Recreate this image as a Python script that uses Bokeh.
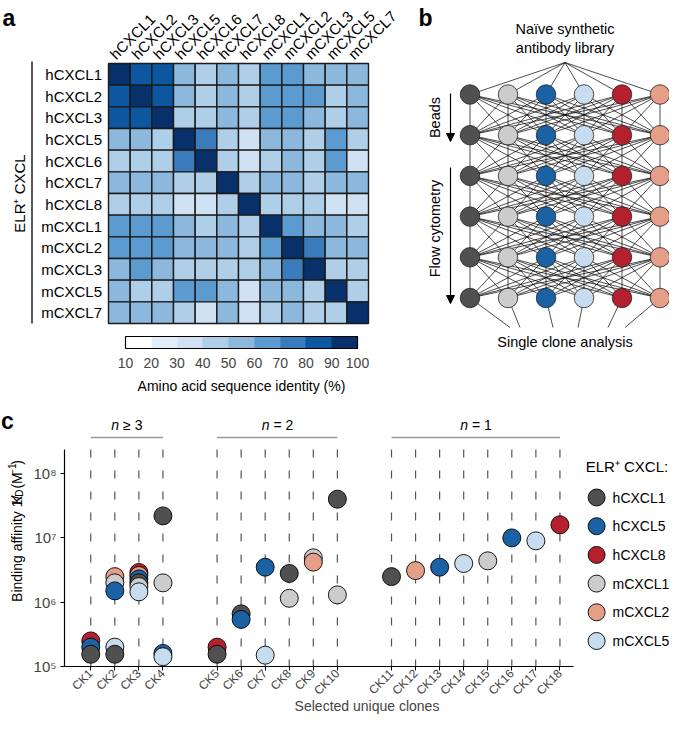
import numpy as np
from bokeh.plotting import figure
from bokeh.models import (Range1d, ColumnDataSource, LinearColorMapper, ColorBar,
                          FixedTicker, Arrow, NormalHead)
from bokeh.layouts import row, column
from bokeh.core.properties import value
from bokeh.transform import transform
from bokeh.embed import file_html
from bokeh.resources import INLINE

FONT = "Liberation Sans"

# ---------------- panel a data ----------------
cxcl_names = ["hCXCL1", "hCXCL2", "hCXCL3", "hCXCL5", "hCXCL6", "hCXCL7",
              "hCXCL8", "mCXCL1", "mCXCL2", "mCXCL3", "mCXCL5", "mCXCL7"]
identity = [
    [100, 88, 86, 54, 44, 53, 44, 64, 63, 55, 54, 55],
    [88, 100, 86, 55, 45, 54, 45, 64, 63, 62, 45, 54],
    [86, 86, 100, 46, 45, 54, 44, 63, 62, 55, 45, 54],
    [54, 55, 46, 100, 76, 45, 35, 55, 54, 45, 63, 46],
    [44, 45, 45, 76, 100, 45, 36, 45, 52, 45, 62, 36],
    [53, 54, 54, 45, 45, 100, 45, 55, 54, 46, 54, 55],
    [44, 45, 44, 35, 36, 45, 100, 45, 45, 45, 36, 35],
    [64, 64, 63, 55, 45, 55, 45, 100, 64, 55, 54, 46],
    [63, 63, 62, 54, 52, 54, 45, 64, 100, 74, 55, 54],
    [55, 62, 55, 45, 45, 46, 45, 55, 74, 100, 45, 45],
    [54, 45, 45, 63, 62, 54, 36, 54, 55, 45, 100, 45],
    [55, 54, 54, 46, 36, 55, 35, 46, 54, 45, 45, 100],
]
cbar_ticks = [10, 20, 30, 40, 50, 60, 70, 80, 90, 100]
palette = ["#ffffff", "#e1edf8", "#cfe1f2", "#afcee8", "#8db8dd",
           "#5c9bd0", "#3a7bbb", "#0d56a0", "#08306b"]

# ---------------- panel c data ----------------
clones = ["CK1", "CK2", "CK3", "CK4", "CK5", "CK6", "CK7", "CK8", "CK9",
          "CK10", "CK11", "CK12", "CK13", "CK14", "CK15", "CK16", "CK17", "CK18"]
group_names = ["n", "n", "n"]
group_rest = ["\u2265 3", "= 2", "= 1"]
clone_group = [0, 0, 0, 0, 1, 1, 1, 1, 1, 1, 2, 2, 2, 2, 2, 2, 2, 2]
series_names = ["hCXCL1", "hCXCL5", "hCXCL8", "mCXCL1", "mCXCL2", "mCXCL5"]
series_colors = ["#505050", "#1b62a5", "#b5202e", "#cccccc", "#e59e88", "#c7dcee"]
N = None
hCXCL1 = [1.55e5, 1.55e5, 2.0e6, 2.2e7, 1.55e5, 6.6e5, N, 2.8e6, N, 4.0e7, 2.5e6, N, N, N, N, N, N, N]
hCXCL5 = [2.0e5, 1.5e6, 2.3e6, 1.6e5, N, 5.4e5, 3.5e6, N, N, N, N, N, 3.5e6, N, N, 1.0e7, N, N]
hCXCL8 = [2.5e5, N, 2.9e6, N, 2.0e5, N, N, N, N, N, N, N, N, N, N, N, N, 1.6e7]
mCXCL1 = [N, 2.0e6, 1.75e6, 2.0e6, N, N, N, 1.15e6, 4.9e6, 1.3e6, N, N, N, N, 4.4e6, N, N, N]
mCXCL2 = [N, 2.5e6, 2.6e6, N, N, N, N, N, 4.2e6, N, N, 3.1e6, N, N, N, N, N, N]
mCXCL5 = [N, 2.0e5, 1.45e6, 1.42e5, N, N, 1.5e5, N, N, N, N, N, N, 4.0e6, N, N, 9.0e6, N]
series_values = [hCXCL1, hCXCL5, hCXCL8, mCXCL1, mCXCL2, mCXCL5]
y_ticks = [1e5, 1e6, 1e7, 1e8]
y_tick_labels = ["10\u2075", "10\u2076", "10\u2077", "10\u2078"]

# panel b node order (colours of the chemokine targets)
b_nodes = ["hCXCL1", "mCXCL1", "hCXCL5", "mCXCL5", "hCXCL8", "mCXCL2"]
color_of = dict(zip(series_names, series_colors))


def base_fig(**kw):
    kw.setdefault("min_border", 0)
    return figure(output_backend="svg", toolbar_location=None,
                  outline_line_color=None, background_fill_color="white",
                  border_fill_color="white", **kw)


def txt(p, x, y, s, size="15px", align="left", baseline="middle", angle=0.0,
        style="normal", color="black"):
    p.text(x=[x], y=[y], text=[s], text_font=value(FONT), text_font_size=size,
           text_align=align, text_baseline=baseline, angle=angle,
           text_font_style=style, text_color=color)


# ======================= panel a =======================
cell = 260 / 12
WA, HA = 400, 400
GX, GY = 108, 63
pa = base_fig(width=WA, height=HA,
              x_range=Range1d(-GX / cell, (WA - GX) / cell),
              y_range=Range1d(-(HA - GY) / cell, GY / cell),
              x_axis_location=None, y_axis_location=None)
pa.xgrid.visible = False
pa.ygrid.visible = False

n = len(cxcl_names)
cx, cy, cv = [], [], []
for r in range(n):
    for c in range(n):
        cx.append(c + 0.5)
        cy.append(-(r + 0.5))
        cv.append(identity[r][c])
mapper = LinearColorMapper(palette=palette, low=cbar_ticks[0], high=cbar_ticks[-1])
pa.rect(x="x", y="y", width=1, height=1,
        source=ColumnDataSource(dict(x=cx, y=cy, v=cv)),
        fill_color=transform("v", mapper), line_color="#1a1a1a", line_width=1.4)

pa.text(x=[-6.5 / cell] * n, y=[-(r + 0.5) for r in range(n)], text=cxcl_names,
        text_font=value(FONT), text_font_size="15px", text_align="right",
        text_baseline="middle")
pa.text(x=[c + 0.5 - 7 / cell for c in range(n)], y=[7 / cell] * n, text=cxcl_names,
        text_font=value(FONT), text_font_size="15px", text_align="left",
        text_baseline="alphabetic", angle=np.pi / 4)

pa.segment(x0=[-76.5 / cell], y0=[2 / cell], x1=[-76.5 / cell], y1=[-n],
           line_color="black", line_width=1.3)
txt(pa, -89 / cell, -n / 2, "ELR\u207a CXCL", size="15px", align="center",
    angle=np.pi / 2)

txt(pa, (2 - GX) / cell, (GY - 17) / cell, "a", size="23px", baseline="alphabetic",
    style="bold")

cb = ColorBar(color_mapper=mapper, orientation="horizontal", location=(125, 30),
              width=232, height=12, padding=0,
              ticker=FixedTicker(ticks=cbar_ticks),
              major_label_text_font=FONT, major_label_text_font_size="14px",
              major_tick_line_color=None, minor_tick_line_color=None,
              bar_line_color="black", bar_line_width=1.2, label_standoff=9,
              background_fill_alpha=0, border_line_alpha=0)
pa.add_layout(cb)
txt(pa, (241 - GX) / cell, -(385 - GY) / cell, "Amino acid sequence identity (%)",
    size="14px", align="center")

# ======================= panel b =======================
WB, HB = 669 - WA, 400
pb = base_fig(width=WB, height=HB, x_range=Range1d(400, 669),
              y_range=Range1d(-400, 0), x_axis_location=None, y_axis_location=None)
pb.xgrid.visible = False
pb.ygrid.visible = False

txt(pb, 418, -17, "b", size="23px", baseline="alphabetic", style="bold")

NX0, NDX = 469.5, 38.0
node_x = [NX0 + NDX * j for j in range(len(b_nodes))]
node_y = [-(94 + 40.7 * i) for i in range(6)]
mid_x = (node_x[0] + node_x[-1]) / 2
apex = (mid_x, -62)
sx0, sy0, sx1, sy1 = [], [], [], []
for j in range(len(b_nodes)):
    sx0.append(apex[0]); sy0.append(apex[1]); sx1.append(node_x[j]); sy1.append(node_y[0])
for i in range(5):
    for a in range(len(b_nodes)):
        for b in range(len(b_nodes)):
            sx0.append(node_x[a]); sy0.append(node_y[i])
            sx1.append(node_x[b]); sy1.append(node_y[i + 1])
end_dx = [-55, -45, -12, 13, 43, 60]
for j in range(len(b_nodes)):
    sx0.append(node_x[j]); sy0.append(node_y[-1])
    sx1.append(mid_x + end_dx[j]); sy1.append(-327)
pb.segment(x0=sx0, y0=sy0, x1=sx1, y1=sy1, line_color="black", line_width=0.7)

bx, by, bc = [], [], []
for i in range(6):
    for j, k in enumerate(b_nodes):
        bx.append(node_x[j]); by.append(node_y[i]); bc.append(color_of[k])
pb.scatter(x=bx, y=by, size=19.5, fill_color=bc, line_color="#222222", line_width=0.8)

txt(pb, mid_x, -28, "Na\u00efve synthetic", size="14.5px", align="center")
txt(pb, mid_x, -47, "antibody library", size="14.5px", align="center")
txt(pb, mid_x, -341, "Single clone analysis", size="14.5px", align="center")
pb.add_layout(Arrow(end=NormalHead(size=8, fill_color="black", line_color="black"),
                    x_start=450, y_start=-93, x_end=450, y_end=-141, line_width=1.2))
pb.add_layout(Arrow(end=NormalHead(size=8, fill_color="black", line_color="black"),
                    x_start=450, y_start=-167, x_end=450, y_end=-303, line_width=1.2))
txt(pb, 434, -117, "Beads", size="14.5px", align="center", angle=np.pi / 2)
txt(pb, 434, -228, "Flow cytometry", size="14.5px", align="center", angle=np.pi / 2)

# ======================= panel c: left strip (y label) =======================
WL, HC = 30, 317
pl = base_fig(width=WL, height=HC, x_range=Range1d(0, WL), y_range=Range1d(-717, -400),
              x_axis_location=None, y_axis_location=None)
pl.xgrid.visible = False
pl.ygrid.visible = False
txt(pl, 0.5, -425, "c", size="23px", baseline="alphabetic", style="bold")
ylab_y0 = 630
# (text, size, style, baseline shift, leading gap, width)
pieces = [("Binding affinity 1/", "14px", "normal", 0, 0, 106.6),
          ("K", "14px", "italic", 0, 0, 9.3),
          ("D", "10px", "normal", 3, 0, 7.2),
          ("(M", "14px", "normal", 0, 3.9, 15.6),
          ("\u22121", "10px", "normal", -5, 0, 11.4),
          (")", "14px", "normal", 0, 0, 4.7)]
cum = 0.0
for s, fs, st, dx, lead, w in pieces:
    cum += lead
    centre = ylab_y0 - cum - w / 2
    txt(pl, 16 + dx, -centre, s, size=fs, align="center",
        baseline="alphabetic", angle=np.pi / 2, style=st)
    cum += w

# ======================= panel c: scatter =======================
WC = 669 - WL
MBL, MBB = 33, 51
FW, FH = WC - MBL, HC - MBB
UNIT, DEC = 24.1, 64.3
GAP = 1.25
pos = [i + GAP * g for i, g in enumerate(clone_group)]
x0 = -26.3 / UNIT


def xpx(px_from_axis):
    return x0 + px_from_axis / UNIT


def ypx(px_above_base):
    return 10 ** (5 + px_above_base / DEC)


pc = base_fig(width=WC, height=HC, x_range=Range1d(x0, x0 + FW / UNIT),
              y_range=Range1d(1e5, ypx(FH)), y_axis_type="log",
              min_border_left=MBL, min_border_bottom=MBB, min_border_right=0,
              min_border_top=0)
pc.xgrid.visible = False
pc.ygrid.visible = False

y_axis_top = ypx(217)
pc.yaxis.ticker = FixedTicker(ticks=y_ticks)
pc.yaxis.major_label_overrides = dict(zip(y_ticks, y_tick_labels))
pc.yaxis.bounds = (1e5, y_axis_top)
pc.xaxis.ticker = FixedTicker(ticks=pos)
pc.xaxis.major_label_overrides = dict(zip(pos, clones))
pc.xaxis.bounds = (x0, xpx(510))
for ax in (pc.xaxis[0], pc.yaxis[0]):
    ax.axis_line_width = 1.2
    ax.major_tick_in = 0
    ax.major_tick_out = 4
    ax.minor_tick_line_color = None
    ax.major_label_text_font = FONT
    ax.axis_label_text_font = FONT
pc.xaxis.major_label_orientation = np.pi / 4
pc.xaxis.major_label_text_font_size = "12px"
pc.xaxis.major_label_standoff = 1
pc.yaxis.major_label_text_font_size = "15px"
pc.yaxis.major_label_standoff = 4
pc.xaxis.axis_label = "Selected unique clones"
pc.xaxis.axis_label_text_font_size = "14px"
pc.xaxis.axis_label_text_font_style = "normal"
pc.xaxis.axis_label_standoff = -8

# dashed guides
pc.segment(x0=pos, y0=[y_axis_top] * len(pos), x1=pos, y1=[1e5] * len(pos),
           line_dash="8 13", line_color="#555555", line_width=1.2)

# group brackets
y_br = ypx(229)
y_gl = ypx(242)
for g in range(len(group_names)):
    gp = [p for p, cg in zip(pos, clone_group) if cg == g]
    pc.segment(x0=[gp[0]], y0=[y_br], x1=[gp[-1]], y1=[y_br], line_color="#999999",
               line_width=1.3)
    xc = (gp[0] + gp[-1]) / 2
    split = xc - 7.7 / UNIT
    pc.text(x=[split], y=[y_gl], text=[group_names[g]], text_font=value(FONT),
            text_font_size="14px", text_font_style="italic", text_align="right",
            text_baseline="middle")
    pc.text(x=[split + 3.9 / UNIT], y=[y_gl], text=[group_rest[g]],
            text_font=value(FONT), text_font_size="14px", text_align="left",
            text_baseline="middle")

# points (lower affinities drawn on top)
rows = []
for sname, scol, vals in zip(series_names, series_colors, series_values):
    for p, v in zip(pos, vals):
        if v is not None:
            rows.append((v, p, scol, sname))
rows.sort(key=lambda t: -t[0])
src = ColumnDataSource(dict(y=[t[0] for t in rows], x=[t[1] for t in rows],
                            color=[t[2] for t in rows], name=[t[3] for t in rows]))
pc.scatter("x", "y", source=src, size=18, fill_color="color", line_color="black",
           line_width=0.9)

# legend (drawn from the series lists)
leg_y = [ypx(669 - (500 + 28.7 * i)) for i in range(len(series_names))]
pc.scatter(x=[xpx(596 - 63)] * len(series_names), y=leg_y, size=17,
           fill_color=series_colors, line_color="black", line_width=0.9)
pc.text(x=[xpx(612 - 63)] * len(series_names), y=leg_y, text=series_names,
        text_font=value(FONT), text_font_size="14px", text_align="left",
        text_baseline="middle")
pc.text(x=[xpx(585 - 63)], y=[ypx(669 - 469)], text=["ELR\u207a CXCL:"],
        text_font=value(FONT), text_font_size="15px", text_align="left",
        text_baseline="middle")

layout = column(row(pa, pb), row(pl, pc))
open("out.html", "w").write(file_html(layout, INLINE))
